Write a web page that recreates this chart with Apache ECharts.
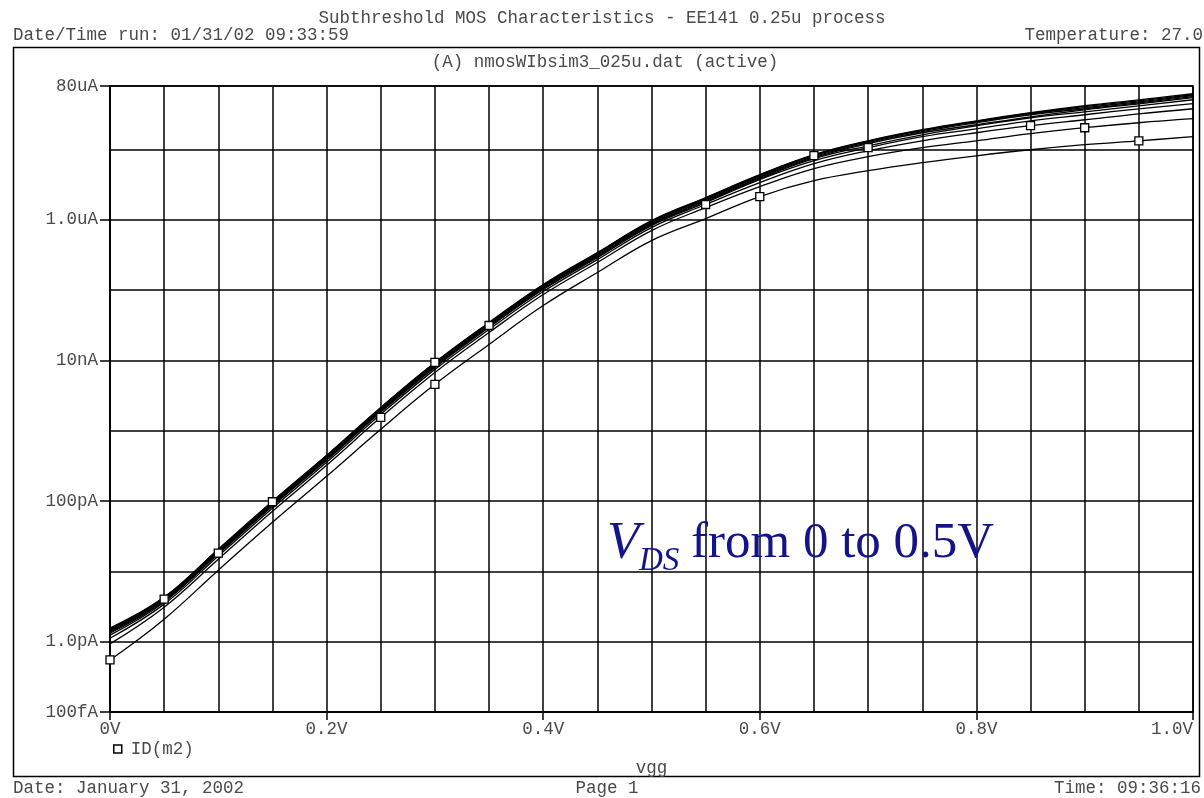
<!DOCTYPE html>
<html>
<head>
    <meta charset="utf-8">
    <title>Subthreshold MOS Characteristics</title>
    <script src="https://cdn.jsdelivr.net/npm/echarts@6/dist/echarts.min.js"></script>
    <style>
        html, body { margin: 0; padding: 0; background: #fff; }
        #chart { width: 1204px; height: 798px; }
    </style>
</head>
<body>
<div id="chart"></div>
<script type="text/javascript">
    // vgg sweep (V)
    const vgg = [0, 0.05, 0.1, 0.15, 0.2, 0.25, 0.3, 0.35, 0.4, 0.45, 0.5,
        0.55, 0.6, 0.65, 0.7, 0.75, 0.8, 0.85, 0.9, 0.95, 1.0];

    // ID(m2) in amperes, one array per VDS step (0.05V .. 0.5V)
    const id050 = [5.5e-13, 2.09e-12, 1.04e-11, 4.99e-11, 2.25e-10, 1.05e-9, 4.57e-9, 1.69e-8, 6.04e-8, 1.78e-7, 5.07e-7,
        1.04e-6, 2.14e-6, 3.60e-6, 4.99e-6, 6.49e-6, 8.14e-6, 9.92e-6, 1.17e-5, 1.33e-5, 1.52e-5];
    const id100 = [9.3e-13, 3.10e-12, 1.49e-11, 7.16e-11, 3.23e-10, 1.55e-9, 6.76e-9, 2.50e-8, 8.65e-8, 2.47e-7, 7.03e-7,
        1.49e-6, 2.96e-6, 5.34e-6, 7.89e-6, 1.06e-5, 1.33e-5, 1.68e-5, 2.04e-5, 2.40e-5, 2.74e-5];
    const id150 = [1.12e-12, 3.42e-12, 1.65e-11, 7.89e-11, 3.56e-10, 1.71e-9, 7.46e-9, 2.76e-8, 9.54e-8, 2.72e-7, 7.75e-7,
        1.65e-6, 3.38e-6, 6.28e-6, 9.59e-6, 1.33e-5, 1.73e-5, 2.18e-5, 2.65e-5, 3.22e-5, 3.80e-5];
    const id200 = [1.24e-12, 3.65e-12, 1.76e-11, 8.43e-11, 3.80e-10, 1.83e-9, 7.96e-9, 2.95e-8, 1.02e-7, 2.90e-7, 8.28e-7,
        1.76e-6, 3.73e-6, 6.93e-6, 1.06e-5, 1.52e-5, 1.97e-5, 2.56e-5, 3.12e-5, 3.79e-5, 4.48e-5];
    const id250 = [1.32e-12, 3.77e-12, 1.82e-11, 8.71e-11, 3.93e-10, 1.89e-9, 8.23e-9, 3.04e-8, 1.05e-7, 3.00e-7, 8.55e-7,
        1.82e-6, 3.85e-6, 7.39e-6, 1.13e-5, 1.62e-5, 2.17e-5, 2.83e-5, 3.44e-5, 4.18e-5, 5.10e-5];
    const id300 = [1.37e-12, 3.90e-12, 1.88e-11, 9.00e-11, 4.06e-10, 1.95e-9, 8.50e-9, 3.14e-8, 1.09e-7, 3.10e-7, 8.83e-7,
        1.88e-6, 3.98e-6, 7.64e-6, 1.21e-5, 1.73e-5, 2.25e-5, 2.92e-5, 3.67e-5, 4.46e-5, 5.45e-5];
    const id350 = [1.41e-12, 4.03e-12, 1.94e-11, 9.30e-11, 4.20e-10, 2.01e-9, 8.79e-9, 3.25e-8, 1.12e-7, 3.20e-7, 9.14e-7,
        1.94e-6, 4.11e-6, 7.90e-6, 1.25e-5, 1.79e-5, 2.40e-5, 3.12e-5, 3.80e-5, 4.61e-5, 5.63e-5];
    const id400 = [1.46e-12, 4.16e-12, 2.00e-11, 9.61e-11, 4.34e-10, 2.08e-9, 9.08e-9, 3.36e-8, 1.16e-7, 3.31e-7, 9.44e-7,
        2.00e-6, 4.25e-6, 8.16e-6, 1.29e-5, 1.85e-5, 2.48e-5, 3.22e-5, 3.93e-5, 4.77e-5, 5.82e-5];
    const id450 = [1.51e-12, 4.23e-12, 2.04e-11, 9.77e-11, 4.41e-10, 2.12e-9, 9.23e-9, 3.41e-8, 1.18e-7, 3.37e-7, 9.59e-7,
        2.04e-6, 4.32e-6, 8.30e-6, 1.31e-5, 1.88e-5, 2.52e-5, 3.28e-5, 4.06e-5, 4.93e-5, 6.01e-5];
    const id500 = [1.56e-12, 4.30e-12, 2.07e-11, 9.93e-11, 4.48e-10, 2.15e-9, 9.38e-9, 3.47e-8, 1.20e-7, 3.42e-7, 9.75e-7,
        2.07e-6, 4.39e-6, 8.43e-6, 1.33e-5, 1.91e-5, 2.56e-5, 3.33e-5, 4.19e-5, 5.09e-5, 6.21e-5];

    // which sweep points carry the square trace marker, per curve
    const markerIdx = [[0, 6, 12, 19], [5, 18], [11, 17], [14], [2], [7], [1], [13], [3], [6]];

    // axis ticks
    const yTickValues = [1e-13, 1e-12, 1e-10, 1e-8, 1e-6, 8e-5];
    const yTickLabels = ['100fA', '1.0pA', '100pA', '10nA', '1.0uA', '80uA'];
    const xTickValues = [0, 0.2, 0.4, 0.6, 0.8, 1.0];
    const xTickLabels = ['0V', '0.2V', '0.4V', '0.6V', '0.8V', '1.0V'];

    const mono = 'Liberation Mono';
    const textGray = '#4a4a4a';
    const yMin = Math.log10(yTickValues[0]);
    const yMax = Math.log10(yTickValues[yTickValues.length - 1]);
    const yLogTicks = yTickValues.map(function (v) { return Math.log10(v); });

    function pick(values, labels, v) {
        for (let i = 0; i < values.length; i++) {
            if (Math.abs(v - values[i]) < 1e-6) return labels[i];
        }
        return '';
    }

    const chart = echarts.init(document.getElementById('chart'));

    const curves = [id050, id100, id150, id200, id250, id300, id350, id400, id450, id500];
    const series = curves.map(function (c, k) {
        return {
            name: 'ID(m2)',
            type: 'line',
            xAxisIndex: 0,
            yAxisIndex: 0,
            smooth: 0.4,
            symbol: 'none',
            symbolSize: 8,
            lineStyle: {color: '#000', width: 1.3},
            itemStyle: {color: '#fff', borderColor: '#000', borderWidth: 1.3},
            emphasis: {disabled: true},
            data: c.map(function (v, i) {
                const p = [vgg[i], Math.log10(v)];
                return markerIdx[k].indexOf(i) >= 0 ? {value: p, symbol: 'rect'} : p;
            })
        };
    });

    const gridLine = {show: true, lineStyle: {color: '#000', width: 1.5}};

    const option = {
        backgroundColor: '#fff',
        animation: false,
        title: {
            text: 'Subthreshold MOS Characteristics - EE141 0.25u process',
            left: 'center',
            top: 4,
            textStyle: {fontFamily: mono, fontSize: 17.5, fontWeight: 'normal', color: textGray}
        },
        legend: {
            data: ['ID(m2)'],
            left: 108,
            top: 735,
            icon: 'rect',
            itemWidth: 8,
            itemHeight: 8,
            itemGap: 8,
            itemStyle: {color: '#fff', borderColor: '#000', borderWidth: 1.5},
            textStyle: {fontFamily: mono, fontSize: 17.5, color: textGray, padding: [0, 0, 0, 4]},
            selectedMode: false
        },
        grid: {
            left: 110,
            right: 11,
            top: 86,
            bottom: 86,
            show: true,
            borderColor: '#000',
            borderWidth: 1.5
        },
        xAxis: [
            {
                type: 'value',
                min: 0,
                max: 1,
                interval: 0.2,
                name: 'vgg',
                nameLocation: 'middle',
                nameGap: 47,
                nameTextStyle: {fontFamily: mono, fontSize: 17.5, color: textGray},
                axisLine: {lineStyle: {color: '#000', width: 1.5}},
                axisTick: {show: true, length: 8, customValues: xTickValues, lineStyle: {color: '#000', width: 1.5}},
                axisLabel: {
                    customValues: xTickValues,
                    margin: 8,
                    alignMaxLabel: 'right',
                    fontFamily: mono,
                    fontSize: 17.5,
                    color: textGray,
                    formatter: function (v) { return pick(xTickValues, xTickLabels, v); }
                },
                splitLine: {show: false}
            },
            {
                // fine vertical grid, every 0.05V
                type: 'value',
                position: 'top',
                min: 0,
                max: 1,
                interval: 0.05,
                axisLine: {show: false},
                axisTick: {show: false},
                axisLabel: {show: false},
                splitLine: gridLine
            }
        ],
        yAxis: [
            {
                type: 'value',
                min: yMin,
                max: yMax,
                interval: 1,
                axisLine: {show: true, lineStyle: {color: '#000', width: 1.5}},
                axisTick: {show: true, length: 10, customValues: yLogTicks, lineStyle: {color: '#000', width: 1.5}},
                axisLabel: {
                    customValues: yLogTicks,
                    margin: 12,
                    fontFamily: mono,
                    fontSize: 17.5,
                    color: textGray,
                    formatter: function (v) { return pick(yLogTicks, yTickLabels, v); }
                },
                splitLine: {show: false}
            },
            {
                // one horizontal grid line per decade
                type: 'value',
                position: 'right',
                min: yMin,
                max: yMax,
                interval: 1,
                axisLine: {show: false},
                axisTick: {show: false},
                axisLabel: {show: false},
                splitLine: gridLine
            }
        ],
        graphic: [
            {
                type: 'rect',
                shape: {x: 13.5, y: 47.5, width: 1186, height: 729},
                style: {fill: 'none', stroke: '#000', lineWidth: 1.5},
                silent: true
            },
            {
                type: 'text', x: 13, y: 35,
                style: {text: 'Date/Time run: 01/31/02 09:33:59', font: '17.5px ' + mono, fill: textGray, verticalAlign: 'middle'}
            },
            {
                type: 'text', x: 1203, y: 35,
                style: {text: 'Temperature: 27.0', font: '17.5px ' + mono, fill: textGray, align: 'right', verticalAlign: 'middle'}
            },
            {
                type: 'text', x: 605, y: 62,
                style: {text: '(A) nmosWIbsim3_025u.dat (active)', font: '17.5px ' + mono, fill: textGray, align: 'center', verticalAlign: 'middle'}
            },
            {
                type: 'text', x: 13, y: 788,
                style: {text: 'Date: January 31, 2002', font: '17.5px ' + mono, fill: textGray, verticalAlign: 'middle'}
            },
            {
                type: 'text', x: 607, y: 788,
                style: {text: 'Page 1', font: '17.5px ' + mono, fill: textGray, align: 'center', verticalAlign: 'middle'}
            },
            {
                type: 'text', x: 1201, y: 788,
                style: {text: 'Time: 09:36:16', font: '17.5px ' + mono, fill: textGray, align: 'right', verticalAlign: 'middle'}
            },
            // V_DS annotation
            {
                type: 'text', x: 607, y: 544, z: 100,
                style: {text: 'V', font: 'italic 53px "Liberation Serif"', fill: '#14148a', verticalAlign: 'middle'}
            },
            {
                type: 'text', x: 639, y: 561, z: 100,
                style: {text: 'DS', font: 'italic 33px "Liberation Serif"', fill: '#14148a', verticalAlign: 'middle'}
            },
            {
                type: 'text', x: 691, y: 544, z: 100,
                style: {text: 'from 0 to 0.5V', font: '51px "Liberation Serif"', fill: '#14148a', verticalAlign: 'middle'}
            }
        ],
        series: series
    };
    chart.setOption(option);
    window.addEventListener('resize', chart.resize);
</script>
</body>
</html>
